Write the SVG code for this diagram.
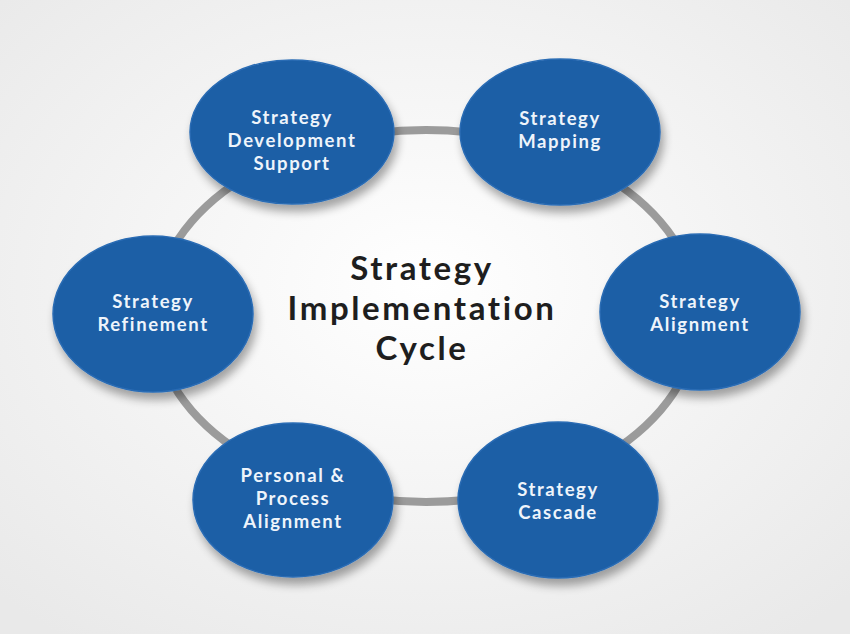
<svg xmlns="http://www.w3.org/2000/svg" width="850" height="634" viewBox="0 0 850 634">
<defs>
<radialGradient id="bg" cx="50%" cy="45%" r="70%">
<stop offset="0" stop-color="#ffffff"/>
<stop offset="1" stop-color="#e9e9e9"/>
</radialGradient>
<filter id="sh" x="-20%" y="-20%" width="140%" height="150%">
<feGaussianBlur in="SourceAlpha" stdDeviation="5"/>
<feOffset dx="3" dy="7" result="b"/>
<feComponentTransfer><feFuncA type="linear" slope="0.35"/></feComponentTransfer>
<feMerge><feMergeNode/><feMergeNode in="SourceGraphic"/></feMerge>
</filter>
<style>
.n{fill:#1c5ea6;stroke:#2a6cb4;stroke-width:1.5;filter:url(#sh)}
.t{font-family:Lato,"Open Sans","Liberation Sans",sans-serif;font-weight:bold;font-size:18.5px;letter-spacing:1.6px;fill:#eef4fb;text-anchor:middle}
.c{font-family:Lato,"Open Sans","Liberation Sans",sans-serif;font-weight:bold;font-size:33px;letter-spacing:2.6px;fill:#1e1e1e;text-anchor:middle}
</style>
</defs>
<rect width="850" height="634" fill="url(#bg)"/>
<g id="connectors">
<ellipse cx="426" cy="316" rx="272" ry="186" fill="none" stroke="#9b9b9b" stroke-width="8"/>
</g>
<g id="center"><text class="c" x="422" y="280">Strategy</text><text class="c" x="422" y="320">Implementation</text><text class="c" x="422" y="360">Cycle</text></g>
<g id="n1"><ellipse class="n" cx="292" cy="132" rx="102" ry="72"/><text class="t" x="292" y="124">Strategy</text><text class="t" x="292" y="147">Development</text><text class="t" x="292" y="170">Support</text></g>
<g id="n2"><ellipse class="n" cx="560" cy="132" rx="100" ry="73"/><text class="t" x="560" y="125">Strategy</text><text class="t" x="560" y="148">Mapping</text></g>
<g id="n3"><ellipse class="n" cx="700" cy="312" rx="100" ry="78"/><text class="t" x="700" y="308">Strategy</text><text class="t" x="700" y="331">Alignment</text></g>
<g id="n4"><ellipse class="n" cx="558" cy="500" rx="100" ry="78"/><text class="t" x="558" y="496">Strategy</text><text class="t" x="558" y="519">Cascade</text></g>
<g id="n5"><ellipse class="n" cx="293" cy="500" rx="100" ry="77"/><text class="t" x="293" y="482">Personal &amp;</text><text class="t" x="293" y="505">Process</text><text class="t" x="293" y="528">Alignment</text></g>
<g id="n6"><ellipse class="n" cx="153" cy="314" rx="100" ry="78"/><text class="t" x="153" y="308">Strategy</text><text class="t" x="153" y="331">Refinement</text></g>
</svg>
